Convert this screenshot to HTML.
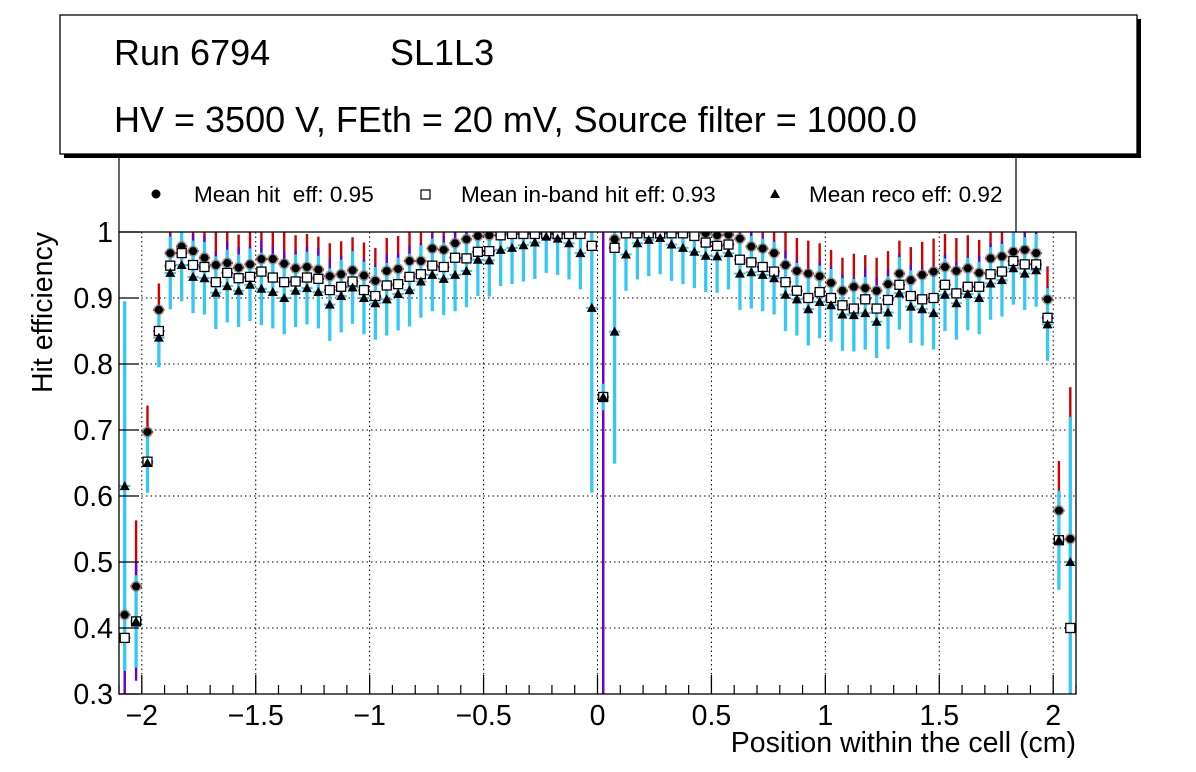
<!DOCTYPE html>
<html><head><meta charset="utf-8"><style>
html,body{margin:0;padding:0;background:#fff;overflow:hidden;width:1196px;height:772px;}
svg{display:block;font-family:"Liberation Sans",sans-serif;}
</style></head><body>
<svg id="c" width="1196" height="772" viewBox="0 0 1196 772">
  <defs><clipPath id="fc"><rect x="119" y="232" width="957" height="462"/></clipPath></defs>
  <rect x="0" y="0" width="1196" height="772" fill="#fff"/>
  <g id="grid"></g>
  <g id="legend">
    <line x1="119" y1="150" x2="119" y2="232" stroke="#000" stroke-width="1.2"/>
    <line x1="1016" y1="150" x2="1016" y2="232" stroke="#000" stroke-width="1.2"/>
    <circle cx="156" cy="194" r="4.5" fill="#000"/>
    <text x="194" y="202" font-size="22.5" xml:space="preserve">Mean hit  eff: 0.95</text>
    <rect x="421" y="190" width="9" height="9" fill="#fff" stroke="#000" stroke-width="1.2"/>
    <text x="461" y="202" font-size="22.5">Mean in-band hit eff: 0.93</text>
    <polygon points="775,189 770,198 780,198" fill="#000"/>
    <text x="809" y="202" font-size="22.5">Mean reco eff: 0.92</text>
  </g>
  <g id="series" clip-path="url(#fc)"></g>
  <rect x="119" y="232" width="957" height="462" fill="none" stroke="#000" stroke-width="1.3"/>
  <g id="axes"></g>
  <text transform="translate(52,232) rotate(-90)" text-anchor="end" font-size="28.5">Hit efficiency</text>
  <text x="1076" y="752" text-anchor="end" font-size="28.5">Position within the cell (cm)</text>
  <g>
    <rect x="64" y="19" width="1077" height="139" fill="#000"/>
    <rect x="60" y="15" width="1077" height="139" fill="#fff" stroke="#000" stroke-width="1.3"/>
    <text x="114" y="65" font-size="36">Run 6794</text>
    <text x="390" y="65" font-size="36">SL1L3</text>
    <text x="114" y="132" font-size="36">HV = 3500 V, FEth = 20 mV, Source filter = 1000.0</text>
  </g>
</svg>
<script>
const hitEff = [.42,.463,.697,.882,.968,.978,.971,.961,.95,.953,.946,.951,.959,.959,.952,.945,.947,.943,.933,.936,.942,.934,.926,.941,.944,.956,.956,.975,.973,.983,.989,.994,.995,1.0,1.0,1.0,1.0,1.0,1.0,1.0,1.0,.979,.75,.989,1.0,1.0,1.0,1.0,1.0,1.0,1.0,.998,.995,.996,.99,.978,.975,.968,.95,.941,.937,.933,.923,.911,.917,.915,.911,.921,.937,.927,.935,.94,.947,.941,.945,.938,.96,.963,.97,.973,.968,.898,.578,.535];
const inBandEff = [.385,.41,.652,.85,.949,.968,.95,.947,.924,.938,.93,.932,.94,.931,.924,.925,.931,.929,.912,.917,.925,.912,.903,.919,.921,.932,.936,.949,.947,.961,.96,.97,.971,.995,.997,.997,.997,.997,.997,.997,.997,.979,.75,.976,.998,.998,.998,.998,.998,.998,.994,.984,.979,.981,.958,.954,.947,.94,.924,.911,.9,.909,.9,.889,.884,.898,.884,.897,.92,.903,.898,.9,.92,.907,.917,.917,.936,.94,.956,.951,.951,.87,.533,.40];
const recoEff = [.615,.41,.65,.84,.938,.95,.932,.93,.908,.918,.911,.92,.914,.909,.9,.911,.915,.909,.89,.903,.916,.9,.892,.898,.906,.912,.925,.935,.929,.935,.941,.958,.957,.973,.976,.98,.984,.993,.99,.983,.968,.885,.75,.849,.966,.983,.988,.991,.981,.976,.97,.964,.963,.968,.937,.939,.935,.93,.905,.898,.883,.894,.889,.875,.874,.877,.864,.878,.907,.887,.883,.877,.905,.892,.906,.9,.922,.927,.945,.937,.942,.86,.533,.50];
const errHit = [.27,.1,.04,.04,.05,.05,.05,.05,.05,.05,.05,.05,.05,.05,.05,.05,.05,.05,.05,.05,.05,.05,.05,.05,.05,.05,.05,.05,.05,.05,.05,.05,.05,.05,.05,.05,.05,.05,.05,.05,.05,.28,.6,.2,.05,.05,.05,.05,.05,.05,.05,.05,.05,.05,.05,.05,.05,.05,.05,.05,.05,.05,.05,.05,.05,.05,.05,.05,.05,.05,.05,.05,.05,.05,.05,.05,.05,.05,.05,.05,.05,.05,.075,.23];
const errBand = [.26,.09,.04,.04,.047,.047,.047,.047,.047,.047,.047,.047,.047,.047,.047,.047,.047,.047,.047,.047,.047,.047,.047,.047,.047,.047,.047,.047,.047,.047,.047,.047,.047,.047,.047,.047,.047,.047,.047,.047,.047,.26,.8,.19,.047,.047,.047,.047,.047,.047,.047,.047,.047,.047,.047,.047,.047,.047,.047,.047,.047,.047,.047,.047,.047,.047,.047,.047,.047,.047,.047,.047,.047,.047,.047,.047,.047,.047,.047,.047,.047,.047,.07,.22];
const errReco = [.28,.07,.045,.045,.055,.055,.055,.055,.055,.055,.055,.055,.055,.055,.055,.055,.055,.055,.055,.055,.055,.055,.055,.055,.055,.055,.055,.055,.055,.055,.055,.055,.055,.055,.055,.055,.055,.055,.055,.055,.055,.28,.02,.2,.055,.055,.055,.055,.055,.055,.055,.055,.055,.055,.055,.055,.055,.055,.055,.055,.055,.055,.055,.055,.055,.055,.055,.055,.055,.055,.055,.055,.055,.055,.055,.055,.055,.055,.055,.055,.055,.055,.075,.22];
const xTicks = [-2,-1.5,-1,-0.5,0,0.5,1,1.5,2];
const xTickLabels = ["\u22122","\u22121.5","\u22121","\u22120.5","0","0.5","1","1.5","2"];
const yTicks = [0.3,0.4,0.5,0.6,0.7,0.8,0.9,1];
const yTickLabels = ["0.3","0.4","0.5","0.6","0.7","0.8","0.9","1"];

const NS = "http://www.w3.org/2000/svg";
const X0=119, X1=1076, Y0=694, Y1=232, XMIN=-2.1, XMAX=2.1, YMIN=0.3, YMAX=1.0;
const BIN=(XMAX-XMIN)/hitEff.length;
function sx(v){return X0+(v-XMIN)/(XMAX-XMIN)*(X1-X0);}
function sy(v){return Y0-(v-YMIN)/(YMAX-YMIN)*(Y0-Y1);}
function mk(tag,attrs,parent){const e=document.createElementNS(NS,tag);for(const k in attrs)e.setAttribute(k,attrs[k]);parent.appendChild(e);return e;}

const grid=document.getElementById('grid'), axes=document.getElementById('axes'), ser=document.getElementById('series');
xTicks.forEach((t,i)=>{
  const x=sx(t);
  const g=mk('line',{x1:x,y1:Y1,x2:x,y2:Y0,stroke:'#000','stroke-width':1,'stroke-dasharray':'1.5,3'},grid);
  
  
  const tk=mk('line',{x1:x,y1:Y0,x2:x,y2:Y0-19,stroke:'#000','stroke-width':1.3},axes);
  
  
  const tx=mk('text',{x:x,y:725,'text-anchor':'middle','font-size':28.5},axes);
  tx.textContent=xTickLabels[i];
  
  
});
for(let v=-2.1;v<=2.1001;v+=0.1){
  const r=Math.round(v*10)/10;
  if(Math.abs(r*2-Math.round(r*2))<1e-6) continue;
  const x=sx(r);
  const tk=mk('line',{x1:x,y1:Y0,x2:x,y2:Y0-9,stroke:'#000','stroke-width':1.2},axes);
  
  
}
yTicks.forEach((t,i)=>{
  const y=sy(t);
  if(t>YMIN && t<YMAX){
    const g=mk('line',{x1:X0,y1:y,x2:X1,y2:y,stroke:'#000','stroke-width':1,'stroke-dasharray':'1.5,3'},grid);
    
    
  }
  const tk=mk('line',{x1:X0,y1:y,x2:X0+20,y2:y,stroke:'#000','stroke-width':1.3},axes);
  
  
  const tx=mk('text',{x:113,y:y+10,'text-anchor':'end','font-size':28.5},axes);
  tx.textContent=yTickLabels[i];
  
  
});

const series=[
  {vals:hitEff, err:errHit, col:'#d00000', w:2.4, name:'hit'},
  {vals:inBandEff, err:errBand, col:'#6a00d0', w:2.4, name:'inband'},
  {vals:recoEff, err:errReco, col:'#33c8f5', w:3.3, name:'reco'}
];
series.forEach(s=>{
  s.vals.forEach((v,i)=>{
    const c=XMIN+(i+0.5)*BIN, x=sx(c), y=sy(v), e=s.err[i];
    const l=mk('line',{x1:x,y1:sy(v+e),x2:x,y2:sy(v-e),stroke:s.col,'stroke-width':s.w},ser);
    
    
    const h=mk('line',{x1:sx(c-BIN/2),y1:y,x2:sx(c+BIN/2),y2:y,stroke:s.col,'stroke-width':2},ser);
    
    
  });
});
hitEff.forEach((v,i)=>{
  const x=sx(XMIN+(i+0.5)*BIN), y=sy(v);
  const halo=mk('circle',{cx:x,cy:y,r:5.5,fill:'#777','fill-opacity':0.7},ser);
  
  
  const m=mk('circle',{cx:x,cy:y,r:4,fill:'#000'},ser);
  
  
});
inBandEff.forEach((v,i)=>{
  const x=sx(XMIN+(i+0.5)*BIN), y=sy(v);
  const m=mk('rect',{x:x-4.5,y:y-4.5,width:9,height:9,fill:'#fff',stroke:'#000','stroke-width':1.3},ser);
  
  
});
recoEff.forEach((v,i)=>{
  const x=sx(XMIN+(i+0.5)*BIN), y=sy(v);
  const m=mk('polygon',{points:`${x},${y-5} ${x-5},${y+4} ${x+5},${y+4}`,fill:'#000'},ser);
  
  
});
</script>
</body></html>
